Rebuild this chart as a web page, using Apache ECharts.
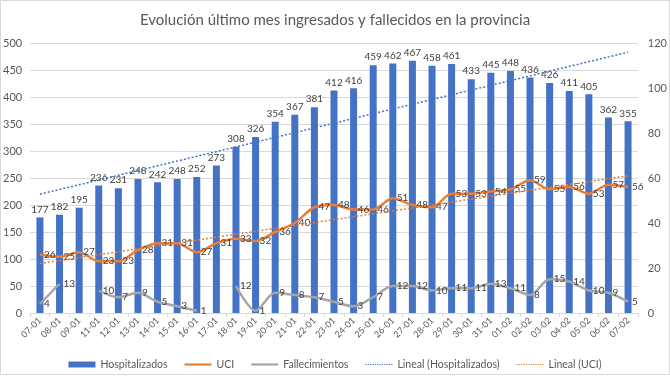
<!DOCTYPE html>
<html>
<head>
<meta charset="utf-8">
<script src="https://cdn.jsdelivr.net/npm/echarts@6/dist/echarts.min.js"></script>
<style>
  html, body { margin: 0; padding: 0; background: #fff; }
  #chart { width: 670px; height: 377px; }
</style>
</head>
<body>
<div id="chart"></div>
<script>
// fechas (falta el 10-01)
const fechas = ['07-01', '08-01', '09-01', '11-01', '12-01', '13-01', '14-01', '15-01', '16-01', '17-01',
  '18-01', '19-01', '20-01', '21-01', '22-01', '23-01', '24-01', '25-01', '26-01', '27-01',
  '28-01', '29-01', '30-01', '31-01', '01-02', '02-02', '03-02', '04-02', '05-02', '06-02', '07-02']
const hospitalizados = [177, 182, 195, 236, 231, 248, 242, 248, 252, 273,
  308, 326, 354, 367, 381, 412, 416, 459, 462, 467,
  458, 461, 433, 445, 448, 436, 426, 411, 405, 362, 355]
const uci = [26, 25, 27, 23, 23, 28, 31, 31, 27, 31,
  33, 32, 36, 40, 47, 48, 46, 46, 51, 48,
  47, 53, 53, 54, 55, 59, 55, 56, 53, 57, 56]
const fallecimientos = [4, 13, null, 10, 7, 9, 5, 3, 1, null,
  12, 1, 9, 8, 7, 5, 3, 7, 12, 12,
  10, 11, 11, 13, 11, 8, 15, 14, 10, 9, 5]
// tendencias lineales: extremos
const tendHospInicio = 220
const tendHospFin = 483
const tendUciInicio = 22
const tendUciFin = 61

const ticksIzq = [0, 500, 50]
const ticksDer = [0, 120, 20]

function extremos (a, b) {
  return fechas.map((f, i) => (i === 0 ? a : (i === fechas.length - 1 ? b : null)))
}

// iconos de leyenda: linea continua y punteada
const iconoLinea = 'path://M0,0h30v2.4h-30z'
let puntos = ''
for (let x = 0; x < 30; x += 2.5) {
  puntos += 'M' + x + ',0h1.3v1.3h-1.3z'
}
const iconoPuntos = 'path://' + puntos

const fuente = 'Lato, "Open Sans", sans-serif'
const gris = '#595959'

const etiquetaLinea = { show: true, position: 'right', fontSize: 10, color: '#404040', distance: 4 }

const chart = echarts.init(document.getElementById('chart'))
chart.setOption({
  animation: false,
  textStyle: { fontFamily: fuente },
  title: {
    text: 'Evolución último mes ingresados y fallecidos en la provincia',
    left: 'center',
    top: 8,
    textStyle: { fontFamily: fuente, fontSize: 15, fontWeight: 'normal', color: gris }
  },
  graphic: [{
    type: 'rect',
    shape: { x: 0.5, y: 0.5, width: 669, height: 374 },
    style: { fill: 'none', stroke: '#d9d9d9', lineWidth: 1 },
    silent: true
  }],
  legend: {
    top: 354,
    left: 'center',
    itemGap: 17,
    itemWidth: 27,
    itemHeight: 6,
    textStyle: { fontFamily: fuente, fontSize: 10.5, color: gris },
    data: [
      { name: 'Hospitalizados', icon: 'rect' },
      { name: 'UCI', icon: iconoLinea },
      { name: 'Fallecimientos', icon: iconoLinea },
      { name: 'Lineal (Hospitalizados)', icon: iconoPuntos },
      { name: 'Lineal (UCI)', icon: iconoPuntos }
    ]
  },
  grid: { left: 28, right: 28, top: 43, bottom: 64 },
  xAxis: {
    type: 'category',
    data: fechas,
    axisLine: { lineStyle: { color: '#d9d9d9' } },
    axisTick: { show: true, interval: 0, length: 4, lineStyle: { color: '#d9d9d9' } },
    axisLabel: { interval: 0, rotate: 45, fontSize: 9, color: gris, margin: 6 }
  },
  yAxis: [
    {
      type: 'value',
      min: ticksIzq[0], max: ticksIzq[1], interval: ticksIzq[2],
      axisLine: { show: false },
      axisTick: { show: false },
      axisLabel: { fontSize: 11, color: gris, margin: 8 },
      splitLine: { lineStyle: { color: '#d9d9d9' } }
    },
    {
      type: 'value',
      min: ticksDer[0], max: ticksDer[1], interval: ticksDer[2],
      axisLine: { show: false },
      axisTick: { show: false },
      axisLabel: { fontSize: 11, color: gris, margin: 10 },
      splitLine: { show: false }
    }
  ],
  series: [
    {
      name: 'Hospitalizados',
      type: 'bar',
      data: hospitalizados,
      barWidth: 7,
      itemStyle: { color: '#4472C4' },
      label: { show: true, position: 'top', fontSize: 10, color: '#404040', distance: 3 }
    },
    {
      name: 'UCI',
      type: 'line',
      yAxisIndex: 1,
      data: uci,
      smooth: 0.3,
      symbol: 'circle',
      symbolSize: 0,
      showSymbol: true,
      lineStyle: { color: '#ED7D31', width: 2.5 },
      itemStyle: { color: '#ED7D31' },
      label: etiquetaLinea,
      z: 4
    },
    {
      name: 'Fallecimientos',
      type: 'line',
      yAxisIndex: 1,
      data: fallecimientos,
      smooth: 0.3,
      symbol: 'circle',
      symbolSize: 0,
      showSymbol: true,
      connectNulls: false,
      lineStyle: { color: '#A5A5A5', width: 2.5 },
      itemStyle: { color: '#A5A5A5' },
      label: etiquetaLinea,
      z: 4
    },
    {
      name: 'Lineal (Hospitalizados)',
      type: 'line',
      data: extremos(tendHospInicio, tendHospFin),
      connectNulls: true,
      symbol: 'none',
      lineStyle: { color: '#4472C4', width: 1.5, type: [2, 2] },
      itemStyle: { color: '#4472C4' },
      z: 5
    },
    {
      name: 'Lineal (UCI)',
      type: 'line',
      yAxisIndex: 1,
      data: extremos(tendUciInicio, tendUciFin),
      connectNulls: true,
      symbol: 'none',
      lineStyle: { color: '#ED7D31', width: 1.5, type: [2, 2] },
      itemStyle: { color: '#ED7D31' },
      z: 5
    }
  ]
})
</script>
</body>
</html>
